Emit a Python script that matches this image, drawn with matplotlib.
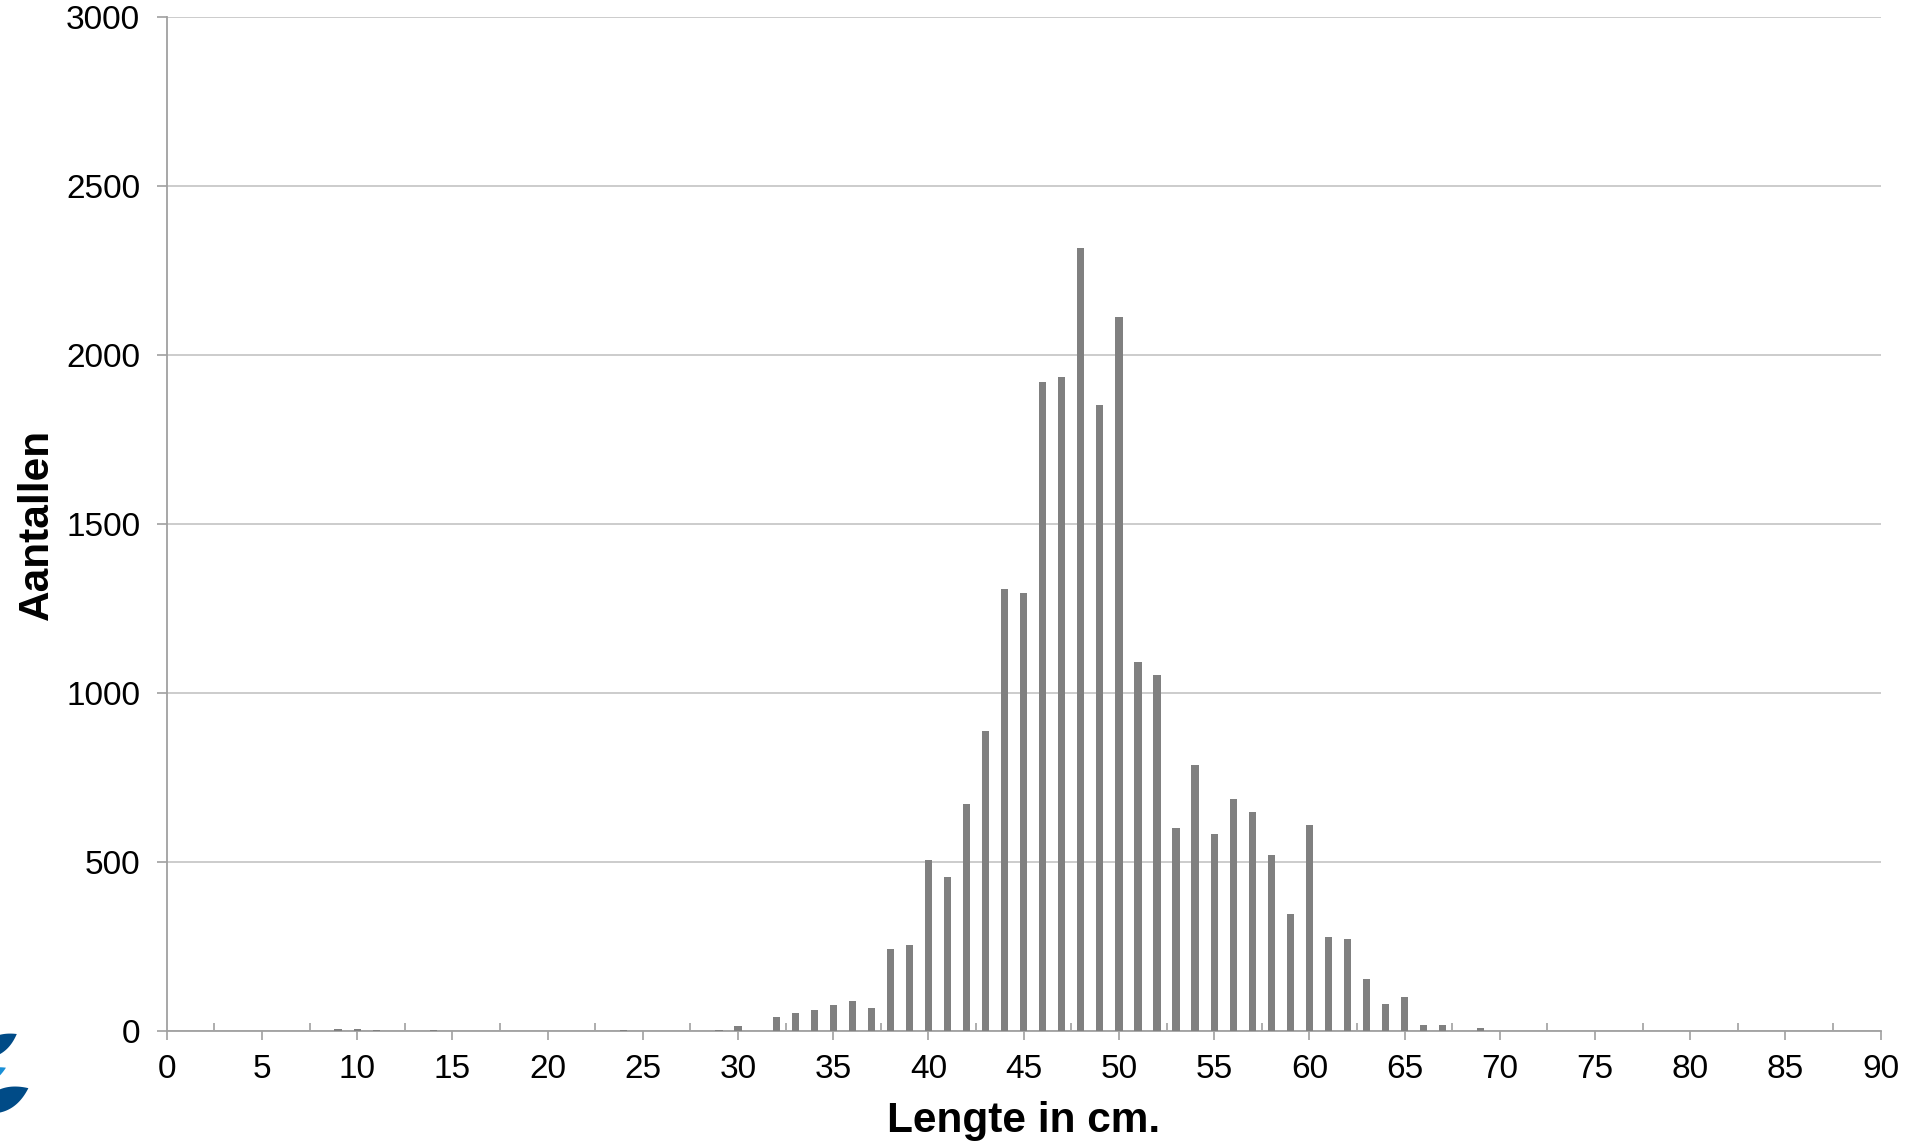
import numpy as np
import matplotlib
matplotlib.use("Agg")
import matplotlib.pyplot as plt
from matplotlib.patches import Polygon

plt.rcParams['font.family'] = ['Liberation Sans', 'DejaVu Sans']

# Data: length class (cm) and counts
lengths = [9, 10, 11, 14, 24, 29, 30, 32, 33, 34, 35, 36, 37, 38, 39, 40,
           41, 42, 43, 44, 45, 46, 47, 48, 49, 50, 51, 52, 53, 54, 55, 56,
           57, 58, 59, 60, 61, 62, 63, 64, 65, 66, 67, 69]
counts = [4, 5, 1, 1, 1, 2, 13, 40, 53, 62, 75, 87, 67, 241, 253, 505,
          456, 670, 886, 1307, 1296, 1920, 1934, 2316, 1851, 2112, 1092, 1054, 601, 786, 581, 685,
          646, 519, 345, 608, 278, 271, 152, 78, 100, 17, 18, 9]

x_ticks = list(range(0, 91, 5))
y_ticks = list(range(0, 3001, 500))
x_label = "Lengte in cm."
y_label = "Aantallen"

W, H = 1913, 1146
fig = plt.figure(figsize=(W / 100, H / 100), dpi=100)
ax = fig.add_axes([166.7 / W, 1 - 1030.7 / H, (1880.7 - 166.7) / W, (1030.7 - 17.3) / H])

ax.bar(lengths, counts, width=0.38, color='#808080', zorder=3, linewidth=0)

ax.set_xlim(0, 90)
ax.set_ylim(0, 3000)
ax.set_xticks(x_ticks)
ax.set_xticks([t + 2.5 for t in x_ticks[:-1]], minor=True)
ax.set_yticks(y_ticks)
ax.yaxis.grid(True, color='#c8c8c8', linewidth=1.3, zorder=0)
ax.set_axisbelow(True)

for s in ['top', 'right']:
    ax.spines[s].set_visible(False)
for s in ['left', 'bottom']:
    ax.spines[s].set_color('#a0a0a0')
    ax.spines[s].set_linewidth(1.3)

ax.tick_params(axis='x', which='major', direction='out', length=6.5, width=1.2,
               color='#a0a0a0', labelsize=24, pad=10.5, labelcolor='black')
ax.tick_params(axis='x', which='minor', direction='in', length=5.5, width=1.2,
               color='#a0a0a0')
ax.tick_params(axis='y', which='major', direction='out', length=7, width=1.2,
               color='#a0a0a0', labelsize=24, pad=12, labelcolor='black')

fig.text(1024 / W, 1 - 1121 / H, x_label, fontsize=30.5, fontweight='bold',
         ha='center', va='center')
fig.text(37 / W, 1 - 524 / H, y_label, fontsize=30.5, fontweight='bold',
         ha='center', va='center', rotation=90)

# decorative logo fragment at bottom-left
ov = fig.add_axes([0, 0, 1, 1], zorder=-1)
ov.set_xlim(0, W)
ov.set_ylim(H, 0)
ov.axis('off')

def leaf(cx, cy, half_len, half_w, ang_deg, color):
    t = np.linspace(-1, 1, 60)
    xs = np.concatenate([half_len * t, half_len * t[::-1]])
    ys = np.concatenate([half_w * (1 - t ** 2), -half_w * (1 - t[::-1] ** 2)])
    a = np.deg2rad(ang_deg)
    xr = cx + xs * np.cos(a) + ys * np.sin(a)
    yr = cy - xs * np.sin(a) + ys * np.cos(a)
    ov.add_patch(Polygon(np.column_stack([xr, yr]), closed=True, color=color, lw=0))

leaf(-4, 1046, 24, 9, 30, '#004b87')
leaf(-14, 1077, 22, 7, 25, '#1a8fd6')
leaf(3, 1100, 28, 11, 25, '#004b87')

fig.savefig('out.png', dpi=100)
